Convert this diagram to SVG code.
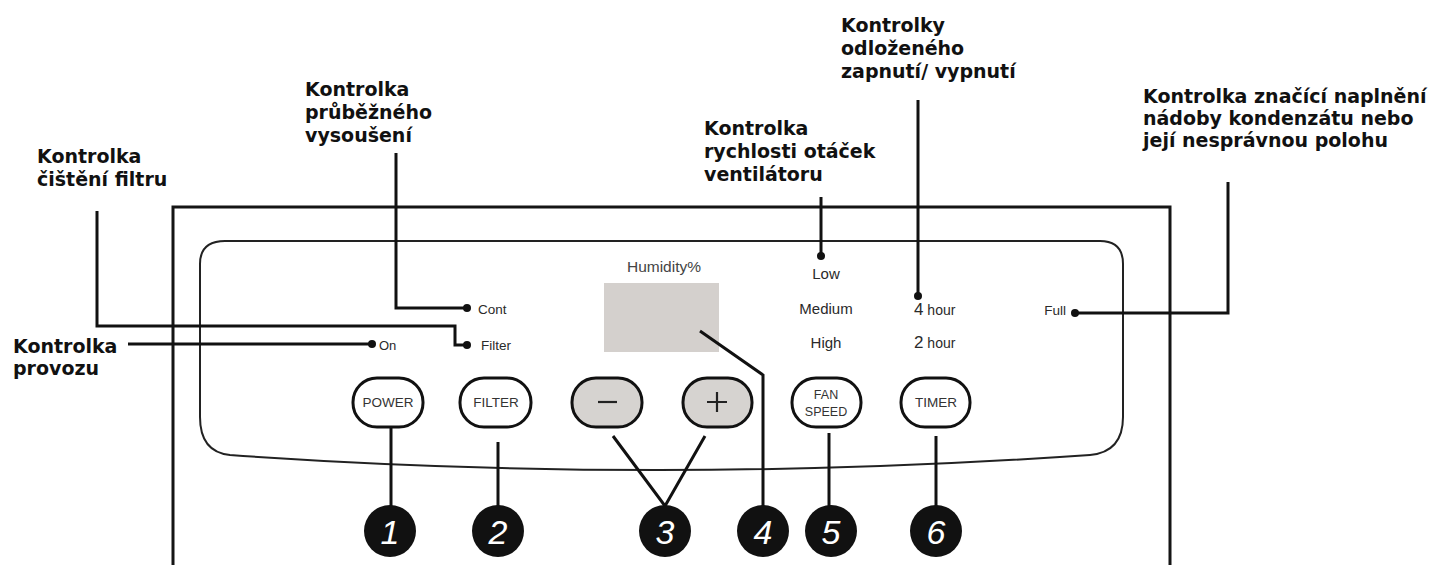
<svg xmlns="http://www.w3.org/2000/svg" width="1438" height="565" viewBox="0 0 1438 565">
<style>
.cap{font-family:"DejaVu Sans",Verdana,sans-serif;font-weight:bold;font-size:19px;fill:#111}
.lbl{font-family:"Liberation Sans",Arial,sans-serif;font-size:15px;fill:#2a2a2a}
.btxt{font-family:"Liberation Sans",Arial,sans-serif;font-size:13.5px;fill:#333;text-anchor:middle}
.num{font-family:"Liberation Sans",Arial,sans-serif;font-style:italic;font-size:34px;fill:#fff;text-anchor:middle}
.lead{fill:none;stroke:#111;stroke-width:3}
.btn{fill:#fff;stroke:#111;stroke-width:3}
.btng{fill:#d6d3d0;stroke:#111;stroke-width:3}
.dot{fill:#111}
</style>
<rect width="1438" height="565" fill="#fff"/>
<g id="housing">
<path d="M173,565 V207 H1170 V565" fill="none" stroke="#151515" stroke-width="3"/>
<path d="M225,241 H1100 Q1123,241 1123,264 V417 Q1123,452 1090,455 Q657,485 230,455 Q200,452 200,417 V264 Q200,241 225,241 Z" fill="none" stroke="#222" stroke-width="2"/>
</g>
<g id="display">
<rect x="604" y="283" width="115" height="69" fill="#d4d0cd"/>
<text class="lbl" x="664" y="272" text-anchor="middle" style="font-size:15.5px;fill:#444">Humidity%</text>
</g>
<g id="panel-labels">
<text class="lbl" x="379" y="350" style="font-size:13px">On</text>
<text class="lbl" x="478" y="314" style="font-size:13.5px">Cont</text>
<text class="lbl" x="481" y="350" style="font-size:13.5px">Filter</text>
<text class="lbl" x="826" y="279" text-anchor="middle">Low</text>
<text class="lbl" x="826" y="314" text-anchor="middle">Medium</text>
<text class="lbl" x="826" y="348" text-anchor="middle">High</text>
<text class="lbl" x="914" y="315"><tspan style="font-size:17px">4</tspan><tspan style="font-size:14px"> hour</tspan></text>
<text class="lbl" x="914" y="348"><tspan style="font-size:17px">2</tspan><tspan style="font-size:14px"> hour</tspan></text>
<text class="lbl" x="1066" y="315" text-anchor="end" style="font-size:13.5px">Full</text>
</g>
<g id="btn-power"><rect class="btn" x="353" y="378" width="70" height="49" rx="24"/><text class="btxt" x="388" y="407">POWER</text></g>
<g id="btn-filter"><rect class="btn" x="460" y="378" width="71" height="49" rx="24"/><text class="btxt" x="496" y="407">FILTER</text></g>
<g id="btn-minus"><rect class="btng" x="572" y="378" width="70" height="49" rx="24"/><line x1="598" y1="402" x2="617" y2="402" stroke="#222" stroke-width="2.2"/></g>
<g id="btn-plus"><rect class="btng" x="683" y="378" width="69" height="49" rx="24"/><path d="M707,402 H727 M717,392 V412" stroke="#222" stroke-width="2.2"/></g>
<g id="btn-fan"><rect class="btn" x="792" y="378" width="69" height="49" rx="24"/><text class="btxt" x="826" y="399" style="font-size:12.5px">FAN</text><text class="btxt" x="826" y="416" style="font-size:12.5px">SPEED</text></g>
<g id="btn-timer"><rect class="btn" x="901" y="378" width="69" height="49" rx="24"/><text class="btxt" x="936" y="407">TIMER</text></g>
<g id="callouts">
<text class="cap" x="37" y="163">Kontrolka<tspan x="37" y="186">čištění filtru</tspan></text>
<text class="cap" x="305" y="96">Kontrolka<tspan x="305" y="119">průběžného</tspan><tspan x="305" y="142">vysoušení</tspan></text>
<text class="cap" x="704" y="135">Kontrolka<tspan x="704" y="158">rychlosti otáček</tspan><tspan x="704" y="181">ventilátoru</tspan></text>
<text class="cap" x="841" y="32">Kontrolky<tspan x="841" y="55">odloženého</tspan><tspan x="841" y="78">zapnutí/ vypnutí</tspan></text>
<text class="cap" x="1143" y="103">Kontrolka značící naplnění<tspan x="1143" y="125">nádoby kondenzátu nebo</tspan><tspan x="1143" y="147">její nesprávnou polohu</tspan></text>
<text class="cap" x="13" y="353">Kontrolka<tspan x="13" y="375">provozu</tspan></text>
</g>
<g id="connectors">
<path class="lead" d="M128,344 H372"/>
<path class="lead" d="M97,211 V326 H455 V345 H467"/>
<path class="lead" d="M396,153 V308 H467"/>
<path class="lead" d="M821,197 V256"/>
<path class="lead" d="M918,100 V296"/>
<path class="lead" d="M1228,182 V313 H1075"/>
<path class="lead" d="M700,331 L763,375 V506"/>
<path class="lead" d="M391,427 V506"/>
<path class="lead" d="M498,442 V506"/>
<path class="lead" d="M613,436 L665,506 L705,436"/>
<path class="lead" d="M829,433 V506"/>
<path class="lead" d="M936,436 V506"/>
<circle class="dot" cx="372" cy="344" r="4"/>
<circle class="dot" cx="467" cy="345" r="4"/>
<circle class="dot" cx="467" cy="308" r="4"/>
<circle class="dot" cx="821" cy="256" r="4"/>
<circle class="dot" cx="918" cy="296" r="4"/>
<circle class="dot" cx="1075" cy="313" r="4"/>
</g>
<g id="n1"><circle cx="390" cy="531" r="26" fill="#111"/><text class="num" x="390" y="544">1</text></g>
<g id="n2"><circle cx="498" cy="531" r="26" fill="#111"/><text class="num" x="498" y="544">2</text></g>
<g id="n3"><circle cx="665" cy="531" r="26" fill="#111"/><text class="num" x="665" y="544">3</text></g>
<g id="n4"><circle cx="763" cy="531" r="26" fill="#111"/><text class="num" x="763" y="544">4</text></g>
<g id="n5"><circle cx="831" cy="531" r="26" fill="#111"/><text class="num" x="831" y="544">5</text></g>
<g id="n6"><circle cx="936" cy="531" r="26" fill="#111"/><text class="num" x="936" y="544">6</text></g>
</svg>
